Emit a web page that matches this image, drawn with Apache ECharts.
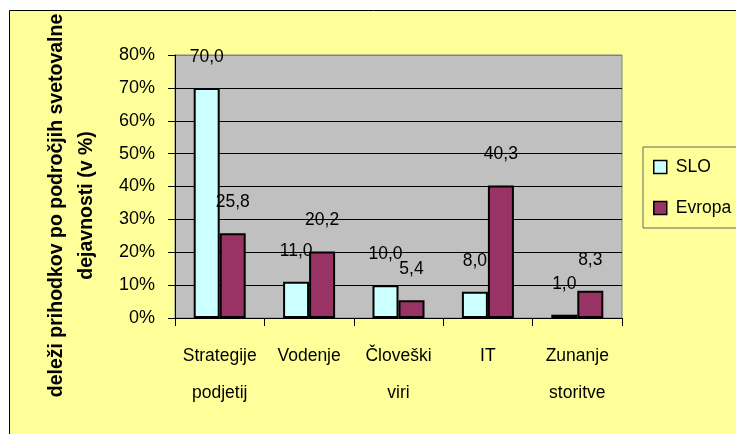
<!DOCTYPE html>
<html>
<head>
<meta charset="utf-8">
<script src="https://cdn.jsdelivr.net/npm/echarts@6/dist/echarts.min.js"></script>
<style>
  html,body{margin:0;padding:0;background:#fff;}
  #b{width:736px;height:434px;}
</style>
</head>
<body>
<div id="b"></div>
<script>
var kategorije=['Strategije\npodjetij','Vodenje','Človeški\nviri','IT','Zunanje\nstoritve'];
var slo=[70.0,11.0,10.0,8.0,1.0];
var evropa=[25.8,20.2,5.4,40.3,8.3];
var yTicks=[0,10,20,30,40,50,60,70,80];

var font='"Liberation Sans", Arial, sans-serif';
var myChart=echarts.init(document.getElementById('b'));
// oznake s decimalno vejico
function fmt(p){ return p.value.toFixed(1).replace('.',','); }
var option={
  animation:false,
  backgroundColor:'#fff',
  graphic:[{
    type:'rect', z:-100,
    shape:{x:9.5,y:10.5,width:760,height:460},
    style:{fill:'#FFFF99',stroke:'#000',lineWidth:1}
  }],
  grid:{left:175,top:55,right:114,bottom:116,outerBoundsMode:'none',show:true,backgroundColor:'#C0C0C0',borderColor:'#808080',borderWidth:1},
  legend:{
    data:['SLO','Evropa'],
    orient:'vertical',
    left:643, top:147,
    icon:'rect',
    itemWidth:13, itemHeight:13, itemGap:23,
    padding:[11,60,11,10],
    backgroundColor:'#FFFF99',
    borderColor:'#666', borderWidth:1,
    itemStyle:{borderColor:'#000',borderWidth:1.5},
    textStyle:{fontFamily:font,fontSize:17.5,color:'#000',padding:[0,0,0,4]}
  },
  xAxis:{
    type:'category',
    data:kategorije,
    axisLine:{lineStyle:{color:'#000',width:1}},
    axisTick:{show:true,length:8,lineStyle:{color:'#000'}},
    axisLabel:{fontFamily:font,fontSize:17.5,color:'#000',lineHeight:37,margin:20,interval:0}
  },
  yAxis:{
    type:'value',
    min:yTicks[0], max:yTicks[yTicks.length-1], interval:10,
    name:'deleži prihodkov po področjih svetovalne\ndejavnosti (v %)',
    nameLocation:'middle', nameGap:73, nameRotate:90,
    nameTextStyle:{fontFamily:font,fontSize:19.5,fontWeight:'bold',color:'#000',lineHeight:30,padding:[0,38,0,0]},
    axisLine:{show:true,lineStyle:{color:'#000',width:1}},
    axisTick:{show:true,length:7,lineStyle:{color:'#000'}},
    axisLabel:{fontFamily:font,fontSize:18,color:'#000',margin:20,formatter:'{value}%'},
    splitLine:{show:true,lineStyle:{color:['#000','#000','#000','#000','#000','#000','#000','#000','#808080'],width:1}}
  },
  series:[
    {
      name:'SLO', type:'bar', data:slo,
      barWidth:26, barGap:'0%',
      itemStyle:{color:'#CCFFFF',borderColor:'#000',borderWidth:2},
      label:{show:true,position:'top',distance:22,formatter:fmt,fontFamily:font,fontSize:17.5,color:'#000'}
    },
    {
      name:'Evropa', type:'bar', data:evropa,
      barWidth:26, barGap:'0%',
      itemStyle:{color:'#993366',borderColor:'#000',borderWidth:2},
      label:{show:true,position:'top',distance:22,formatter:fmt,fontFamily:font,fontSize:17.5,color:'#000'}
    }
  ]
};
option && myChart.setOption(option);
</script>
</body>
</html>
